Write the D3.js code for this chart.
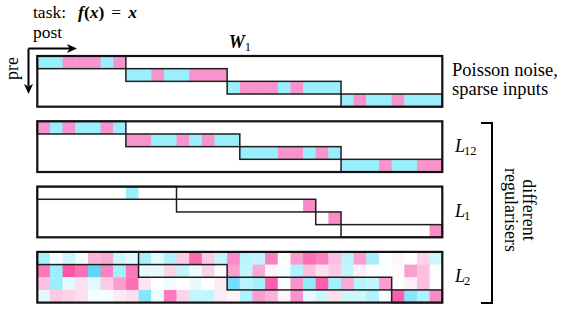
<!DOCTYPE html>
<html>
<head>
<meta charset="utf-8">
<script src="https://cdn.jsdelivr.net/npm/d3@7"></script>
<style>
  body { margin: 0; background: #fff; }
  text { font-family: "Liberation Serif", "Times New Roman", serif; fill: #000; }
</style>
</head>
<body>
<div id="chart"></div>
<script>
// matrix is 4 pre rows x 32 post columns
const nRows = 4;
const nCols = 32;

// column boundaries of the diagonal blocks, one list per panel
const poissonBounds = [0, 7, 15, 24, 32];
const l12Bounds = [0, 7, 16, 24, 32];
const l1Bounds = [0, 11, 22, 24, 32];
const l2Bounds = [0, 8, 15, 28, 32];

// weights inside each block (row i holds block i)
const poissonBlocks = [
  [-0.5, -0.5, 0.5, 0.5, 0.5, -0.5, 0.5],
  [-0.5, -0.5, 0.5, -0.5, -0.5, 0.5, 0.5, 0.5],
  [-0.5, 0.5, 0.5, 0.5, -0.5, 0.5, -0.5, -0.5, -0.5],
  [-0.5, 0.5, -0.5, -0.5, 0.5, -0.5, -0.5, -0.5]
];
const l12Blocks = [
  [0.5, -0.5, 0.5, -0.5, -0.5, 0.5, -0.5],
  [0.5, 0.5, -0.5, -0.5, 0.5, -0.5, 0.5, -0.5, -0.5],
  [-0.5, -0.5, -0.5, 0.5, 0.5, -0.5, 0.5, -0.5],
  [-0.5, -0.5, -0.5, 0.5, -0.5, -0.5, 0.5, 0.5]
];
const l1Blocks = [
  [0, 0, 0, 0, 0, 0, 0, -0.5, 0, 0, 0],
  [0, 0, 0, 0, 0, 0, 0, 0, 0, 0, 0.55],
  [0, 0.55],
  [0, 0, 0, 0, 0, 0, 0, 0.55]
];
// L2 solution is dense, full rows
const l2Rows = [
  [-0.45, -0.05, -0.25, -0.05, 0.35, 0.4, -0.25, -0.15, -0.45, -0.15, -0.4, 0.25, 0.75, 0.25, -0.3, 0.55,
   -0.35, -0.3, 0.6, -0.03, 0.45, 0.7, 0.6, 0.3, -0.35, 0.45, -0.45, -0.02, 0.05, 0, 0.2, -0.25],
  [0.65, -0.5, 0.85, 0.7, -0.8, 0.6, -0.45, 0.65, -0.12, -0.12, 0.2, -0.3, -0.08, 0.2, 0.02, 0.45,
   -0.3, 0.4, 0.05, -0.05, -0.4, 0.3, 0.15, 0.25, -0.3, 0.08, 0, -0.03, 0.02, 0.45, 0.3, 0.02],
  [0.3, -0.5, -0.15, 0.15, -0.15, 0.25, 0.45, 0.7, 0.12, 0, -0.08, 0, -0.12, 0, 0.1, -0.7,
   -0.35, -0.45, 0.8, -0.05, 0.5, -0.55, 0.8, -0.45, 0.4, -0.35, -0.3, 0.45, -0.02, 0.08, 0.3, -0.02],
  [-0.15, 0.25, 0.2, 0.15, -0.05, -0.05, 0.1, 0.15, -0.6, -0.1, 0.65, 0.2, -0.3, -0.3, 0.1, 0.05,
   -0.4, 0.45, 0.35, 0.05, 0.5, -0.12, -0.25, 0.15, -0.25, -0.25, -0.4, -0.05, 0.8, -0.6, -0.4, 0.55]
];

const rightLabels = [["Poisson noise,", "sparse inputs"], ["L", "12"], ["L", "1"], ["L", "2"]];
const bracketLabel = ["different", "regularisers"];

// put block lists into a full grid
function fromBlocks(bounds, blocks) {
  let grid = d3.range(nRows).map(() => d3.range(nCols).map(() => 0));
  blocks.forEach((row, i) => {
    row.forEach((v, j) => { grid[i][bounds[i] + j] = v; });
  });
  return grid;
}

const panels = [
  { bounds: poissonBounds, grid: fromBlocks(poissonBounds, poissonBlocks) },
  { bounds: l12Bounds, grid: fromBlocks(l12Bounds, l12Blocks) },
  { bounds: l1Bounds, grid: fromBlocks(l1Bounds, l1Blocks) },
  { bounds: l2Bounds, grid: l2Rows }
];

const width = 568, height = 312;
const svg = d3.select("#chart").append("svg")
  .attr("width", width).attr("height", height);

const x = d3.scaleLinear().domain([0, nCols]).range([37.3, 442.3]);
const panelTop = [56, 121.3, 186.6, 251.9];
const panelH = 50.7;

const color = d3.scaleLinear()
  .domain([-1, -0.5, 0, 0.5, 1])
  .range(["#3cc3f7", "#9beefb", "#ffffff", "#f894cb", "#ff3c96"])
  .clamp(true);

panels.forEach((p, k) => {
  let y = d3.scaleLinear().domain([0, nRows]).range([panelTop[k], panelTop[k] + panelH]);
  let g = svg.append("g").attr("class", "panel");

  let cells = [];
  p.grid.forEach((row, i) => row.forEach((v, j) => cells.push({ i: i, j: j, v: v })));

  g.selectAll("rect.cell")
    .data(cells)
    .enter()
    .append("rect")
    .attr("class", "cell")
    .attr("x", d => x(d.j))
    .attr("y", d => y(d.i))
    .attr("width", x(1) - x(0) + 0.4)
    .attr("height", y(1) - y(0) + 0.4)
    .attr("fill", d => color(d.v));

  // block outlines
  g.selectAll("rect.block")
    .data(d3.range(nRows))
    .enter()
    .append("rect")
    .attr("class", "block")
    .attr("x", i => x(p.bounds[i]))
    .attr("y", i => y(i))
    .attr("width", i => x(p.bounds[i + 1]) - x(p.bounds[i]))
    .attr("height", y(1) - y(0))
    .attr("fill", "none")
    .attr("stroke", "#1e1e1e")
    .attr("stroke-width", 1.5);

  g.append("rect")
    .attr("x", x(0)).attr("y", y(0))
    .attr("width", x(nCols) - x(0)).attr("height", y(nRows) - y(0))
    .attr("fill", "none")
    .attr("stroke", "#111")
    .attr("stroke-width", 2.2);

  // label on the right
  let cy = panelTop[k] + panelH / 2;
  let lab = rightLabels[k];
  if (k === 0) {
    svg.append("text").attr("x", 452).attr("y", 76).attr("font-size", 18.5).text(lab[0]);
    svg.append("text").attr("x", 452).attr("y", 95).attr("font-size", 18.5).text(lab[1]);
  } else {
    let t = svg.append("text").attr("x", 455).attr("y", cy + 5).attr("font-size", 18);
    t.append("tspan").attr("font-style", "italic").text(lab[0]);
    t.append("tspan").attr("font-size", 12.5).attr("dy", 3).attr("dx", -1).text(lab[1]);
  }
});

// title
let title = svg.append("text").attr("x", 33).attr("y", 18).attr("font-size", 17.5);
title.append("tspan").text("task:");
title.append("tspan").attr("dx", 12).attr("font-weight", "bold").attr("font-style", "italic").text("f");
title.append("tspan").attr("font-weight", "bold").text("(");
title.append("tspan").attr("font-weight", "bold").attr("font-style", "italic").text("x");
title.append("tspan").attr("font-weight", "bold").text(")");
title.append("tspan").attr("dx", 7).text("=");
title.append("tspan").attr("dx", 7).attr("font-weight", "bold").attr("font-style", "italic").text("x");

svg.append("text").attr("x", 33).attr("y", 38).attr("font-size", 17.5).text("post");
svg.append("text")
  .attr("transform", "translate(18,68.5) rotate(-90)")
  .attr("text-anchor", "middle")
  .attr("font-size", 18)
  .text("pre");

// post / pre arrows
svg.append("path")
  .attr("d", "M28.5,48.5 H70 M28.5,48.5 V86")
  .attr("fill", "none").attr("stroke", "#000").attr("stroke-width", 2);
svg.append("path")
  .attr("d", "M77,48.5 L67,44 L69.5,48.5 L67,53 Z M28.5,94 L24,84 L28.5,86.5 L33,84 Z")
  .attr("fill", "#000");

// W_1 heading
let wt = svg.append("text").attr("x", x(nCols / 2)).attr("y", 48).attr("text-anchor", "middle").attr("font-size", 18);
wt.append("tspan").attr("font-weight", "bold").attr("font-style", "italic").text("W");
wt.append("tspan").attr("font-size", 12.5).attr("dy", 3).text("1");

// bracket for the regulariser panels
svg.append("path")
  .attr("d", "M481,123 H492 V303 H481")
  .attr("fill", "none").attr("stroke", "#000").attr("stroke-width", 2);

let bt = svg.append("text")
  .attr("transform", "translate(523,210) rotate(90)")
  .attr("text-anchor", "middle")
  .attr("font-size", 18);
bt.append("tspan").attr("x", 0).attr("y", 0).text(bracketLabel[0]);
bt.append("tspan").attr("x", 0).attr("y", 18.5).text(bracketLabel[1]);
</script>
</body>
</html>
